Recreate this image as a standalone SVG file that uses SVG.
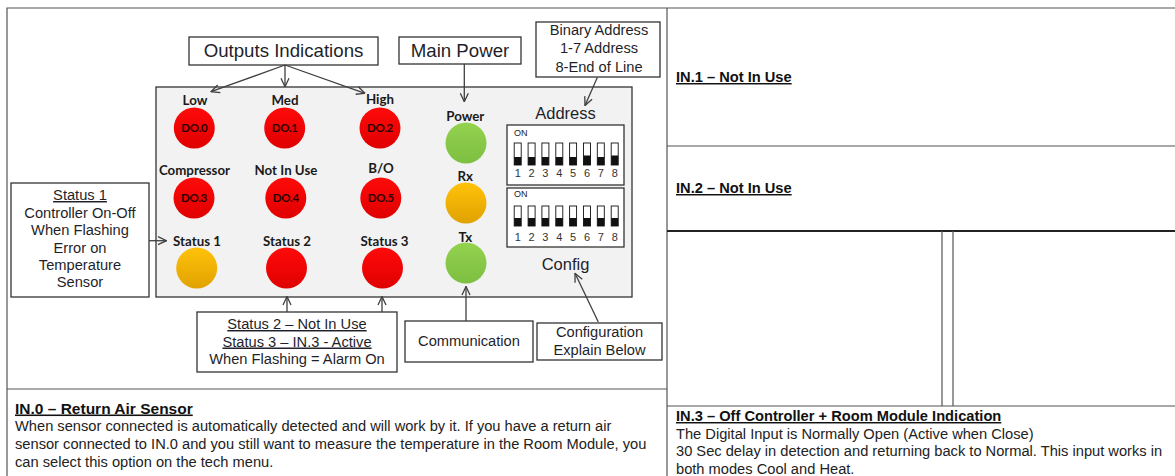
<svg xmlns="http://www.w3.org/2000/svg" width="1175" height="476" viewBox="0 0 1175 476">
<style>
.grid{stroke:#555;stroke-width:1.2;fill:none}
.thick{stroke:#222;stroke-width:2.2;fill:none}
.box{fill:#fff;stroke:#333;stroke-width:1.3}
.panel{fill:#f2f2f2;stroke:#333;stroke-width:1.3}
.t{font-family:"Liberation Sans",Arial,sans-serif;fill:#1f1f2a}
.c{text-anchor:middle}
.lbl{font-family:Lato,"Liberation Sans",sans-serif;font-weight:bold;font-size:13.3px;fill:#1a1a1a;text-anchor:middle}
.do{font-family:Lato,"Liberation Sans",sans-serif;font-weight:bold;font-size:11.5px;fill:#2a0000;text-anchor:middle;letter-spacing:-0.3px}
.conn{stroke:#404040;stroke-width:1.3;fill:none;marker-end:url(#arr)}
.sw{fill:#fff;stroke:#111;stroke-width:0.9}
.swb{fill:#111}
.num{font-family:"Liberation Sans",Arial,sans-serif;font-size:11px;fill:#333;text-anchor:middle}
.on{font-family:"Liberation Sans",Arial,sans-serif;font-size:9px;fill:#222}
.u{text-decoration:underline}
.h{font-family:"Liberation Sans",Arial,sans-serif;font-weight:bold;font-size:14.67px;fill:#111;text-decoration:underline}
.b{font-family:"Liberation Sans",Arial,sans-serif;font-size:14.67px;fill:#222}
</style>
<defs>
<marker id="arr" viewBox="0 0 10 10" refX="9.5" refY="5" markerWidth="10" markerHeight="10" markerUnits="userSpaceOnUse" orient="auto">
<path d="M1,1 L9.5,5 L1,9" fill="none" stroke="#404040" stroke-width="1.3"/>
</marker>
<linearGradient id="red" x1="0" y1="0" x2="0" y2="1">
<stop offset="0" stop-color="#ff0a0a"/><stop offset="1" stop-color="#e00000"/>
</linearGradient>
<linearGradient id="grn" x1="0" y1="0" x2="0" y2="1">
<stop offset="0" stop-color="#94d24e"/><stop offset="1" stop-color="#7dbf42"/>
</linearGradient>
<linearGradient id="org" x1="0" y1="0" x2="0" y2="1">
<stop offset="0" stop-color="#ffc20a"/><stop offset="1" stop-color="#e0a200"/>
</linearGradient>
</defs>
<rect width="1175" height="476" fill="#fff"/>

<g id="table">
<path class="grid" d="M7,476 V8 H1175"/>
<path class="grid" d="M667,8 V476"/>
<path class="grid" d="M7,389 H667"/>
<path class="grid" d="M667,146 H1175"/>
<path class="thick" d="M667,231 H1175"/>
<path class="grid" d="M667,406 H1175"/>
<path class="grid" d="M942,231 V406 M953,231 V406"/>
</g>

<g id="panel">
<rect class="panel" x="156" y="87" width="476" height="210"/>
<text class="t c" x="565.5" y="119" font-size="16.5">Address</text>
<text class="t c" x="565.5" y="270" font-size="16.5">Config</text>
</g>

<g id="dip-address">
<rect class="box" x="507" y="125" width="117" height="60"/>
<text class="on" x="514" y="136">ON</text>
<g>
<rect class="sw" x="514.2" y="143" width="7" height="22"/><rect class="swb" x="514.2" y="157" width="7" height="8"/>
<rect class="sw" x="528.1" y="143" width="7" height="22"/><rect class="swb" x="528.1" y="157" width="7" height="8"/>
<rect class="sw" x="541.9" y="143" width="7" height="22"/><rect class="swb" x="541.9" y="157" width="7" height="8"/>
<rect class="sw" x="555.8" y="143" width="7" height="22"/><rect class="swb" x="555.8" y="157" width="7" height="8"/>
<rect class="sw" x="569.6" y="143" width="7" height="22"/><rect class="swb" x="569.6" y="157" width="7" height="8"/>
<rect class="sw" x="583.5" y="143" width="7" height="22"/><rect class="swb" x="583.5" y="155.5" width="7" height="9.5"/>
<rect class="sw" x="597.3" y="143" width="7" height="22"/><rect class="swb" x="597.3" y="157" width="7" height="8"/>
<rect class="sw" x="611.2" y="143" width="7" height="22"/><rect class="swb" x="611.2" y="155.5" width="7" height="9.5"/>
</g>
<text class="num" y="177"><tspan x="517.7">1</tspan><tspan x="531.6">2</tspan><tspan x="545.4">3</tspan><tspan x="559.3">4</tspan><tspan x="573.1">5</tspan><tspan x="587">6</tspan><tspan x="600.8">7</tspan><tspan x="614.7">8</tspan></text>
</g>

<g id="dip-config">
<rect class="box" x="507" y="188" width="117" height="59"/>
<text class="on" x="514" y="197">ON</text>
<g>
<rect class="sw" x="514.2" y="206" width="7" height="20"/><rect class="swb" x="514.2" y="218" width="7" height="8"/>
<rect class="sw" x="528.1" y="206" width="7" height="20"/><rect class="swb" x="528.1" y="218" width="7" height="8"/>
<rect class="sw" x="541.9" y="206" width="7" height="20"/><rect class="swb" x="541.9" y="218" width="7" height="8"/>
<rect class="sw" x="555.8" y="206" width="7" height="20"/><rect class="swb" x="555.8" y="218" width="7" height="8"/>
<rect class="sw" x="569.6" y="206" width="7" height="20"/><rect class="swb" x="569.6" y="218" width="7" height="8"/>
<rect class="sw" x="583.5" y="206" width="7" height="20"/><rect class="swb" x="583.5" y="218" width="7" height="8"/>
<rect class="sw" x="597.3" y="206" width="7" height="20"/><rect class="swb" x="597.3" y="218" width="7" height="8"/>
<rect class="sw" x="611.2" y="206" width="7" height="20"/><rect class="swb" x="611.2" y="218" width="7" height="8"/>
</g>
<text class="num" y="241"><tspan x="517.7">1</tspan><tspan x="531.6">2</tspan><tspan x="545.4">3</tspan><tspan x="559.3">4</tspan><tspan x="573.1">5</tspan><tspan x="587">6</tspan><tspan x="600.8">7</tspan><tspan x="614.7">8</tspan></text>
</g>

<g id="led-low"><text class="lbl" x="195" y="105">Low</text><circle cx="194.3" cy="128" r="20.5" fill="url(#red)"/><text class="do" x="194.3" y="132">DO.0</text></g>
<g id="led-med"><text class="lbl" x="285" y="105">Med</text><circle cx="284.7" cy="128" r="20.5" fill="url(#red)"/><text class="do" x="284.7" y="132">DO.1</text></g>
<g id="led-high"><text class="lbl" x="380" y="104">High</text><circle cx="380" cy="128" r="20.5" fill="url(#red)"/><text class="do" x="380" y="132">DO.2</text></g>
<g id="led-compressor"><text class="lbl" x="194.5" y="174.5">Compressor</text><circle cx="194" cy="198" r="20.5" fill="url(#red)"/><text class="do" x="194" y="201.5">DO.3</text></g>
<g id="led-notinuse"><text class="lbl" x="286" y="174.5">Not In Use</text><circle cx="285.8" cy="198" r="20.5" fill="url(#red)"/><text class="do" x="285.8" y="201.5">DO.4</text></g>
<g id="led-bo"><text class="lbl" x="381" y="173">B/O</text><circle cx="380.8" cy="198" r="20.5" fill="url(#red)"/><text class="do" x="380.8" y="201.5">DO.5</text></g>
<g id="led-status1"><text class="lbl" x="197" y="246">Status 1</text><circle cx="196.7" cy="268" r="20.5" fill="url(#org)"/></g>
<g id="led-status2"><text class="lbl" x="287" y="246">Status 2</text><circle cx="286.5" cy="268" r="20.5" fill="url(#red)"/></g>
<g id="led-status3"><text class="lbl" x="384.5" y="246">Status 3</text><circle cx="382.5" cy="268" r="20.5" fill="url(#red)"/></g>
<g id="led-power"><text class="lbl" x="465.3" y="121">Power</text><circle cx="466" cy="143" r="20.5" fill="url(#grn)"/></g>
<g id="led-rx"><text class="lbl" x="465.3" y="181">Rx</text><circle cx="466" cy="203" r="20.5" fill="url(#org)"/></g>
<g id="led-tx"><text class="lbl" x="465.3" y="241.5">Tx</text><circle cx="466" cy="263" r="20.5" fill="url(#grn)"/></g>

<g id="outputs-indications">
<rect class="box" x="189" y="37" width="189" height="28"/>
<text class="t c" x="283.5" y="57" font-size="18.67">Outputs Indications</text>
</g>
<g id="main-power">
<rect class="box" x="399" y="37" width="122" height="27"/>
<text class="t c" x="460" y="57" font-size="18.67">Main Power</text>
</g>
<g id="binary-address">
<rect class="box" x="536" y="22" width="124" height="55"/>
<text class="t c" x="599" y="35" font-size="14.67">Binary Address</text>
<text class="t c" x="599" y="53" font-size="14.67">1-7 Address</text>
<text class="t c" x="599" y="71.5" font-size="14.67">8-End of Line</text>
</g>
<g id="status1-note">
<rect class="box" x="11" y="183" width="138" height="114"/>
<text class="t c u" x="80" y="200" font-size="14.67">Status 1</text>
<text class="t c" x="80" y="217.5" font-size="14.67">Controller On-Off</text>
<text class="t c" x="80" y="235" font-size="14.67">When Flashing</text>
<text class="t c" x="80" y="252.5" font-size="14.67">Error on</text>
<text class="t c" x="80" y="270" font-size="14.67">Temperature</text>
<text class="t c" x="80" y="287" font-size="14.67">Sensor</text>
</g>
<g id="status23-note">
<rect class="box" x="197" y="312" width="200" height="60"/>
<text class="t c u" x="297" y="329" font-size="14.67">Status 2 – Not In Use</text>
<text class="t c u" x="297" y="346.5" font-size="14.67">Status 3 – IN.3 - Active</text>
<text class="t c" x="297" y="364" font-size="14.67">When Flashing = Alarm On</text>
</g>
<g id="communication">
<rect class="box" x="405" y="321" width="128" height="41"/>
<text class="t c" x="469" y="345.5" font-size="14.67">Communication</text>
</g>
<g id="configuration">
<rect class="box" x="537" y="323" width="125" height="37"/>
<text class="t c" x="599.5" y="337" font-size="14.67">Configuration</text>
<text class="t c" x="599.5" y="354.5" font-size="14.67">Explain Below</text>
</g>

<g id="connectors">
<path class="conn" d="M285,65 L211,91.7"/>
<path class="conn" d="M285,65 L285,86.7"/>
<path class="conn" d="M285,65 L365,93.3"/>
<path class="conn" d="M464.3,64 L464.3,101.7"/>
<path class="conn" d="M597.3,77.5 L585,105.5"/>
<path class="conn" d="M149,240.7 L166.5,240.7"/>
<path class="conn" d="M287,312 L287,296.5"/>
<path class="conn" d="M382,312 L382,296.5"/>
<path class="conn" d="M466,321 L466,286.5"/>
<path class="conn" d="M598.3,322 L575,273.3"/>
</g>

<g id="in0">
<text class="h" x="15" y="413.5" style="font-size:15.5px">IN.0 – Return Air Sensor</text>
<text class="b" x="15" y="431">When sensor connected is automatically detected and will work by it. If you have a return air</text>
<text class="b" x="15" y="449">sensor connected to IN.0 and you still want to measure the temperature in the Room Module, you</text>
<text class="b" x="15" y="466.5">can select this option on the tech menu.</text>
</g>
<g id="in1"><text class="h" x="676" y="82">IN.1 – Not In Use</text></g>
<g id="in2"><text class="h" x="676" y="193">IN.2 – Not In Use</text></g>
<g id="in3">
<text class="h" x="676" y="421">IN.3 – Off Controller + Room Module Indication</text>
<text class="b" x="676" y="438.5">The Digital Input is Normally Open (Active when Close)</text>
<text class="b" x="676" y="456">30 Sec delay in detection and returning back to Normal. This input works in</text>
<text class="b" x="676" y="473.5">both modes Cool and Heat.</text>
</g>
</svg>
